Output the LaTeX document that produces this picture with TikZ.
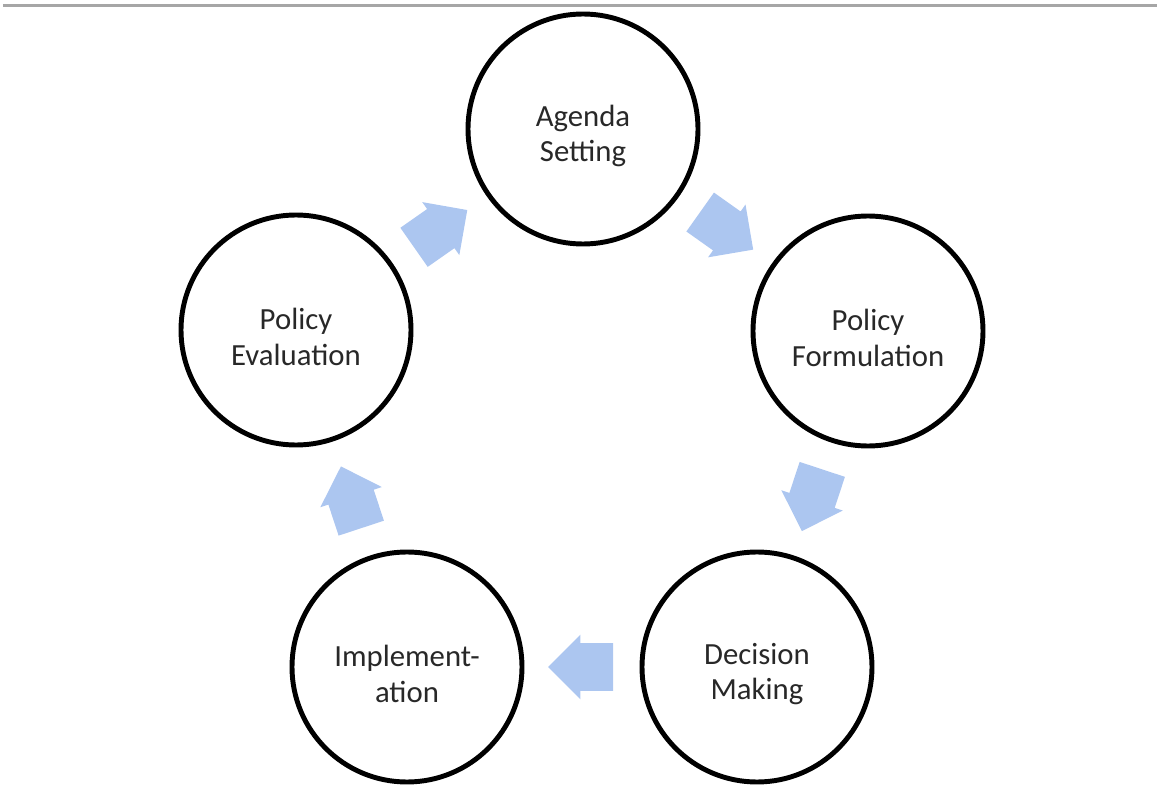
\documentclass[tikz,border=0pt]{standalone}
\usepackage{fontspec}
\setmainfont{Carlito}
\usetikzlibrary{shapes.arrows,calc}
\definecolor{arrowblue}{RGB}{172,198,240}
\definecolor{textgray}{RGB}{40,40,40}

\begin{document}
\begin{tikzpicture}[
	stage/.style={circle, draw, line width=2.8pt, minimum size=4.6cm, label={[stagetext]center:{#1}}},
	stagetext/.style={align=center, yshift=-0.14cm, text=textgray, font=\fontsize{17.5}{20}\selectfont},
	blockarrow/.style={single arrow, fill=arrowblue, draw=none, minimum height=1.3cm, inner xsep=0pt, inner ysep=0.47cm, single arrow head extend=0.17cm}
]

\def \pw{23.14}
\def \ph{15.88}

\useasboundingbox (0,0) rectangle (\pw,-\ph);
\draw [gray!70, line width=1.6pt] (0.06,-0.11) -- (\pw,-0.11);

\node [stage={Agenda\\Setting}] (agenda) at (11.66,-2.58) {};
\node [stage={Policy\\Formulation}] (formul) at (17.36,-6.62) {};
\node [stage={Decision\\Making}] (decision) at (15.14,-13.34) {};
\node [stage={Implement-\\ation}] (implem) at (8.14,-13.34) {};
\node [stage={Policy\\Evaluation}] (evalu) at (5.92,-6.6) {};

\foreach \a/\b in {agenda/formul, formul/decision, decision/implem, implem/evalu, evalu/agenda}
{
	\path let \p1 = ($(\b)-(\a)$), \n1 = {atan2(\y1,\x1)} in
		node [blockarrow, rotate=\n1] at ($(\a)!0.47!(\b)$) {};
}
\end{tikzpicture}
\end{document}
